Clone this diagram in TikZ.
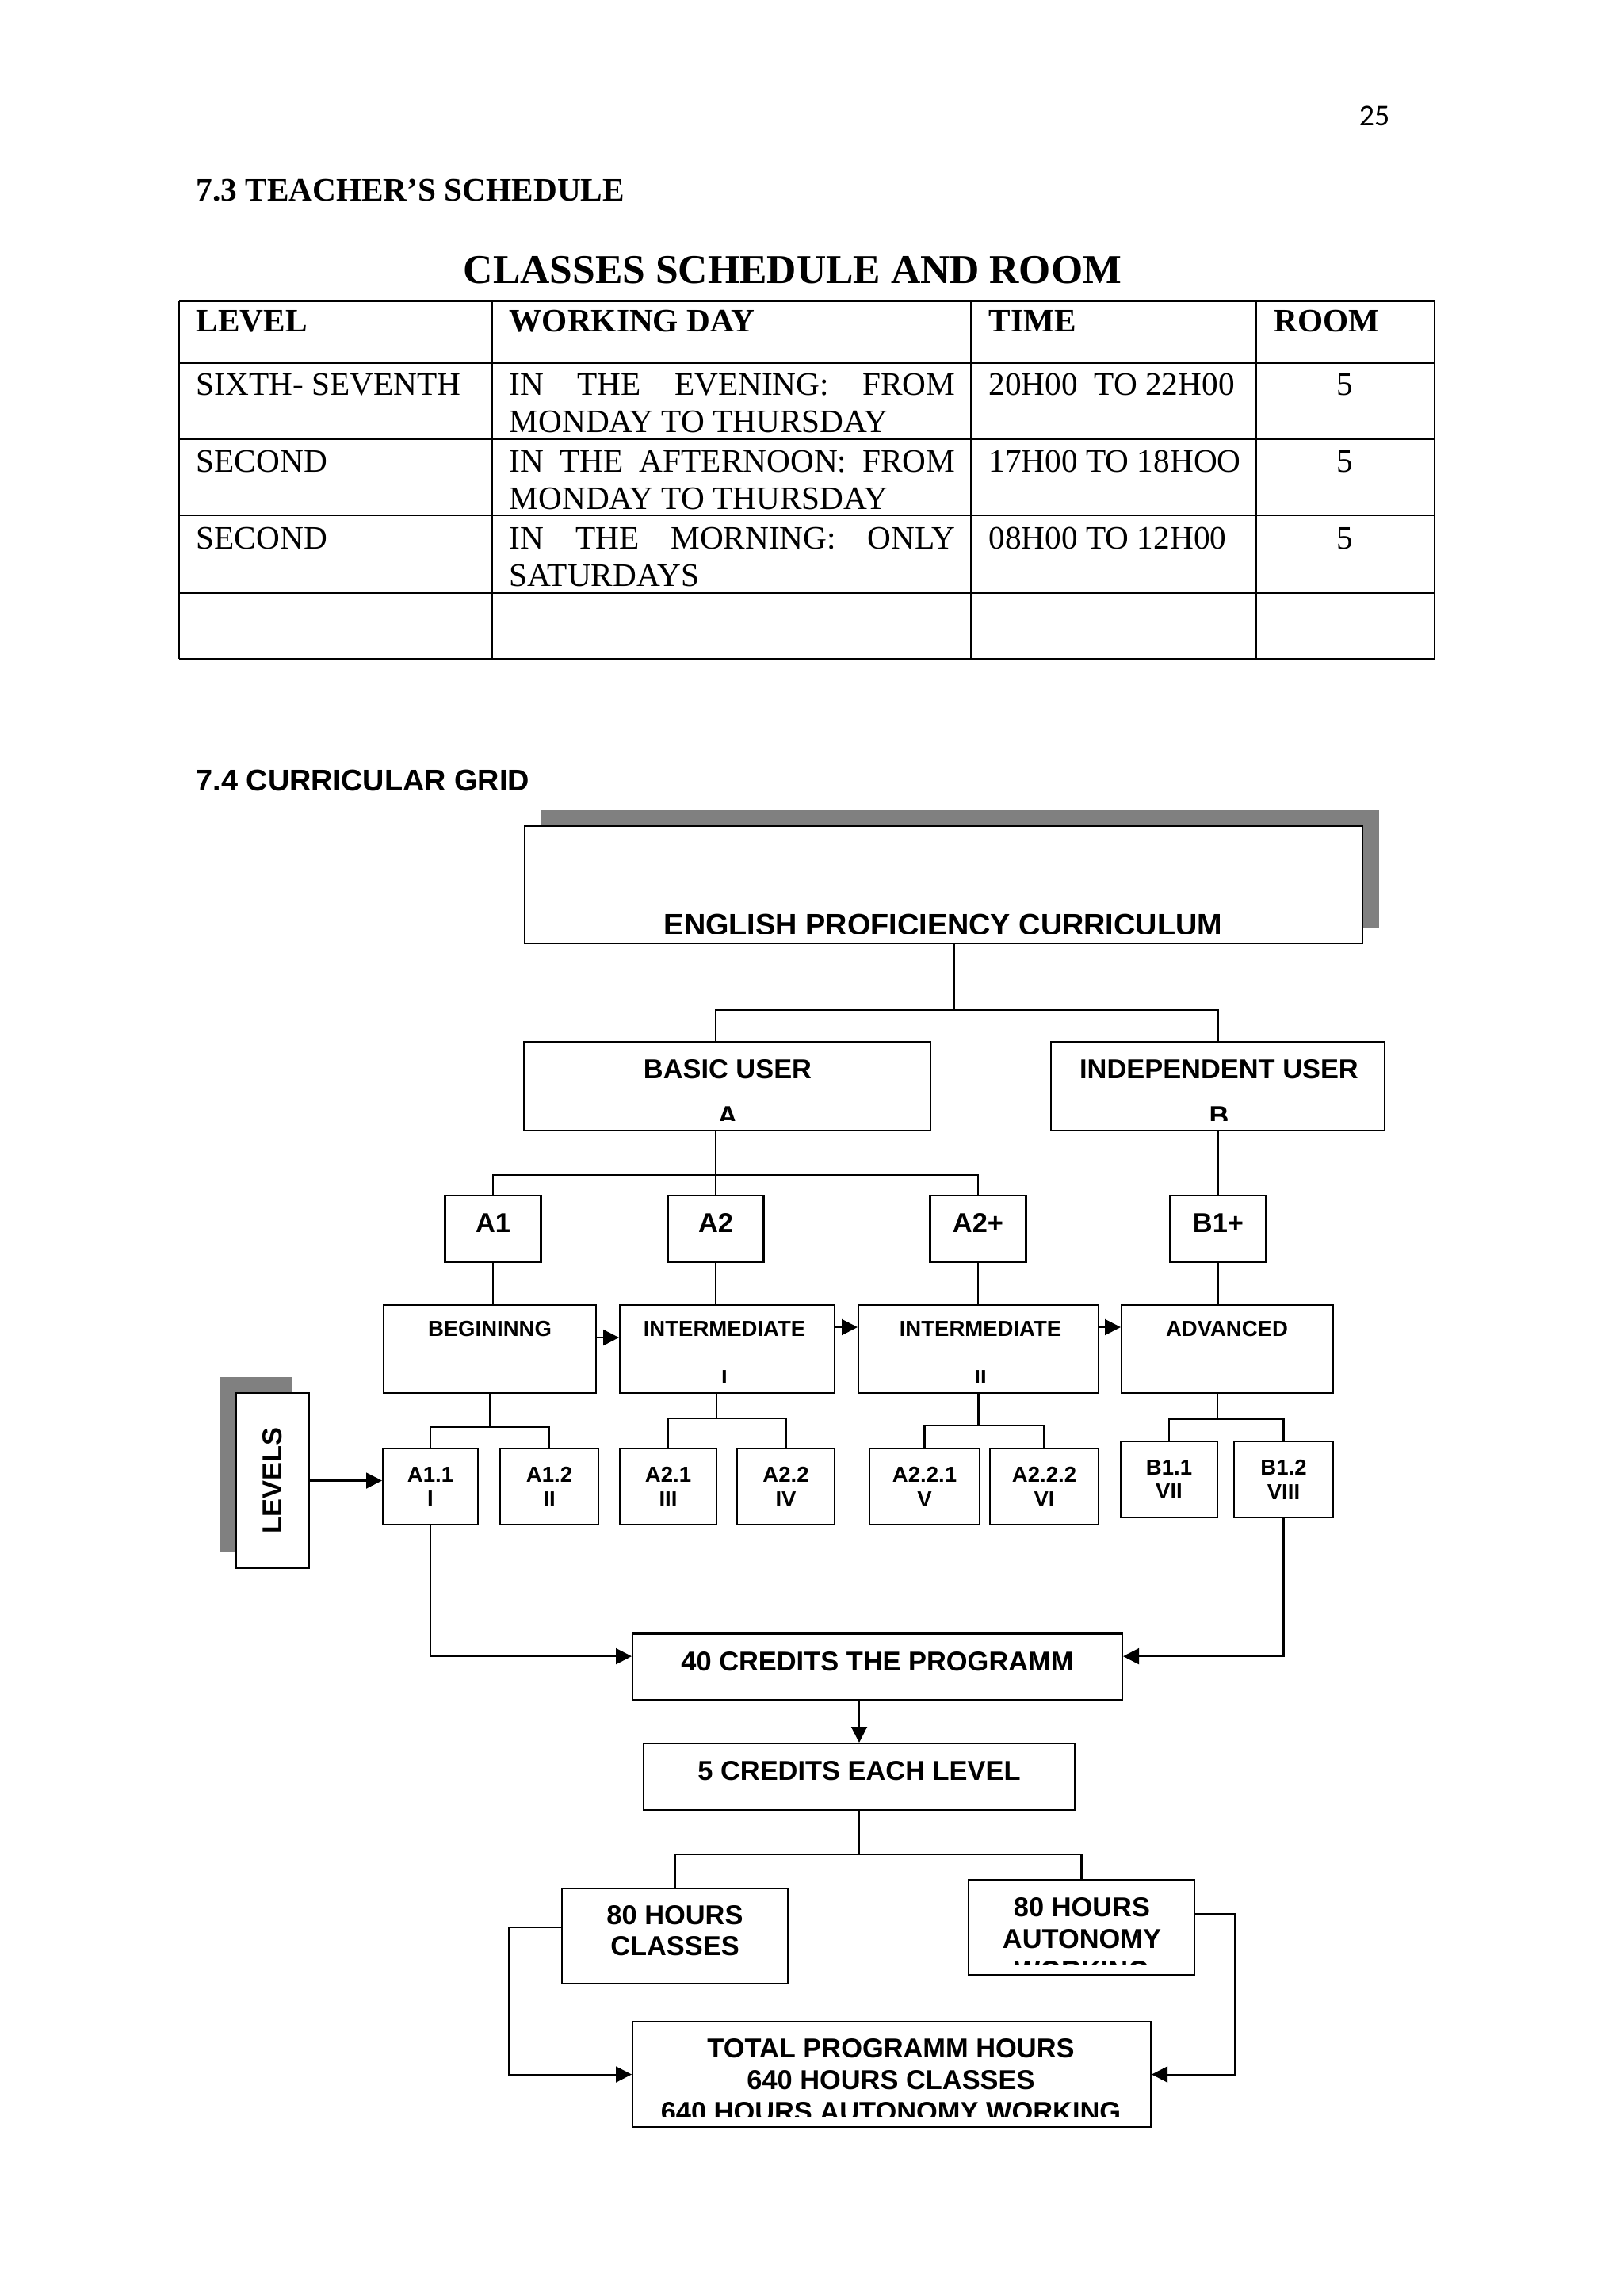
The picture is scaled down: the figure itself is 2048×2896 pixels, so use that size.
\documentclass[tikz,border=0pt]{standalone}
\usepackage{fontspec}
\setmainfont{Liberation Serif}
\newfontfamily\arialf{Liberation Sans}
\newfontfamily\calibrif{Carlito}
\usepackage{graphicx}
\usetikzlibrary{arrows.meta,shadows}
\definecolor{shadowgray}{RGB}{128,128,128}
\newcommand{\px}{0.29066pt}
\tikzset{
  box/.style={rectangle, draw=black, line width=0.6pt, fill=white, inner sep=0pt,
              align=center, font=\arialf\bfseries\fontsize{10}{11.5}\selectfont},
  boxup/.style={box, text depth=4.4pt},
  lvl/.style={box, font=\arialf\bfseries\fontsize{8}{9}\selectfont},
  shadowed/.style={drop shadow={shadow xshift=#1, shadow yshift=5.8pt, fill=shadowgray, opacity=1}},
  txt/.style={inner sep=0pt, anchor=north, align=center, font=\arialf\bfseries\fontsize{10}{17.1}\selectfont},
  txtm/.style={txt, font=\arialf\bfseries\fontsize{10}{11.6}\selectfont},
  txts/.style={txt, font=\arialf\bfseries\fontsize{8}{18}\selectfont},
  ln/.style={line width=0.6pt},
  ar/.style={-{Triangle[length=5.8pt,width=5.8pt]}, line width=0.6pt},
  cell/.style={inner sep=0pt, anchor=base west, font=\fontsize{12}{14}\selectfont},
  tline/.style={line width=0.6pt},
}
\begin{document}
\begin{tikzpicture}[x=\px, y=-\px]
\path[use as bounding box, fill=white] (0,0) rectangle (2048,2896);

% page header
\node[cell, anchor=base east, font=\calibrif\fontsize{11}{13}\selectfont] (pagenum) at (1754,158) {25};
\node[cell, font=\bfseries\fontsize{12}{14}\selectfont] (sec73) at (247,253) {7.3 TEACHER’S SCHEDULE};
\node[cell, anchor=base, font=\bfseries\fontsize{15}{18}\selectfont] (tabtitle) at (1000,357) {CLASSES SCHEDULE AND ROOM};

% schedule table
\foreach \x in {226,621,1225,1585,1810} \draw[tline] (\x,380) -- (\x,831);
\foreach \y in {380,458,554,650,748,831} \draw[tline] (226,\y) -- (1810,\y);
\node[cell, font=\bfseries\fontsize{12}{14}\selectfont] (hlevel) at (247,418) {LEVEL};
\node[cell, font=\bfseries\fontsize{12}{14}\selectfont] (hday) at (642,418) {WORKING DAY};
\node[cell, font=\bfseries\fontsize{12}{14}\selectfont] (htime) at (1247,418) {TIME};
\node[cell, font=\bfseries\fontsize{12}{14}\selectfont] (hroom) at (1607,418) {ROOM};
\foreach \r/\yy/\lv/\wa/\wb/\tm in {
  1/498/SIXTH- SEVENTH/IN THE EVENING: FROM/MONDAY TO THURSDAY/20H00\ \ TO 22H00,
  2/595/SECOND/IN THE AFTERNOON: FROM/MONDAY TO THURSDAY/17H00 TO 18HOO,
  3/692/SECOND/IN THE MORNING: ONLY/SATURDAYS/08H00 TO 12H00}{
  \node[cell] (lv\r) at (247,\yy) {\lv};
  \node[cell] (wa\r) at (642,\yy) {\makebox[163.6pt][s]{\wa}};
  \node[cell] (wb\r) at (642,\yy+47) {\wb};
  \node[cell] (tm\r) at (1247,\yy) {\tm};
  \node[cell, anchor=base] (rm\r) at (1697,\yy) {5};
}

% curricular grid
\node[cell, font=\arialf\bfseries\fontsize{11}{13}\selectfont] (sec74) at (247,997) {7.4 CURRICULAR GRID};

\node[box, shadowed=6.1pt, minimum width=1057*\px, minimum height=148*\px] (title) at (1190.5,1116) {};
\begin{scope}
  \clip ([yshift=3.8pt]title.south west) rectangle (title.north east);
  \node[txt, font=\arialf\bfseries\fontsize{11}{13}\selectfont] (titlet) at (1190,1152) {ENGLISH PROFICIENCY CURRICULUM};
\end{scope}

\node[box, minimum width=513*\px, minimum height=112*\px] (basic) at (917.5,1370) {};
\node[box, minimum width=421*\px, minimum height=112*\px] (indep) at (1536.5,1370) {};
\begin{scope}
  \clip ([yshift=3.8pt]basic.south west) rectangle (indep.north east);
  \node[txt] (basict) at (918,1336) {BASIC USER\\A};
  \node[txt] (indept) at (1538,1336) {INDEPENDENT USER\\B};
\end{scope}

\foreach \n/\x/\t in {a1/622/A1, a2/903/A2, a2p/1234/A2+, b1p/1537/B1+}
  \node[boxup, minimum width=121*\px, minimum height=84*\px] (\n) at (\x,1550) {\t};

\foreach \n/\xa/\xb in {beg/484/752, int1/782/1053, int2/1083/1386, adv/1415/1682}
  \node[box, minimum width={(\xb-\xa)*\px}, minimum height=111*\px] (\n) at ({(\xa+\xb)/2},1701.5) {};
\node[txts] (begt) at (618,1666) {BEGININNG};
\node[txts] (advt) at (1548,1666) {ADVANCED};
\begin{scope}
  \clip ([yshift=3.8pt]int1.south west) rectangle (int2.north east);
  \node[txts] (int1t) at (914,1666) {INTERMEDIATE\\I};
  \node[txts] (int2t) at (1237,1666) {INTERMEDIATE\\II};
\end{scope}

\node[box, shadowed=-6.1pt, minimum width=92*\px, minimum height=221*\px] (levels) at (344,1867.5) {\rotatebox{90}{LEVELS}};

\foreach \n/\xa/\xb/\ya/\yb/\t in {
  a11/483/603/1827/1923/A1.1\\I,
  a12/631/755/1827/1923/A1.2\\II,
  a21/782/904/1827/1923/A2.1\\III,
  a22/930/1053/1827/1923/A2.2\\IV,
  a221/1097/1236/1827/1923/A2.2.1\\V,
  a222/1249/1386/1827/1923/A2.2.2\\VI,
  b11/1414/1536/1818/1914/B1.1\\VII,
  b12/1557/1682/1818/1914/B1.2\\VIII}
  \node[lvl, minimum width={(\xb-\xa)*\px}, minimum height={(\yb-\ya)*\px}] (\n) at ({(\xa+\xb)/2},{(\ya+\yb)/2}) {\t};

\node[boxup, text depth=4pt, minimum width=618*\px, minimum height=84*\px] (credits) at (1107,2102.5) {40 CREDITS THE PROGRAMM};
\node[boxup, minimum width=544*\px, minimum height=84*\px] (five) at (1084,2241) {5 CREDITS EACH LEVEL};
\node[boxup, text depth=4pt, minimum width=285*\px, minimum height=120*\px, font=\arialf\bfseries\fontsize{10}{11.4}\selectfont] (classes) at (851.5,2442) {80 HOURS\\CLASSES};
\node[box, minimum width=285*\px, minimum height=120*\px] (autonomy) at (1364.5,2431) {};
\node[box, minimum width=654*\px, minimum height=133*\px] (total) at (1125,2616.5) {};
\begin{scope}
  \clip ([yshift=3.8pt]autonomy.south west) rectangle (autonomy.north east);
  \node[txtm] (autonomyt) at (1365,2393) {80 HOURS\\AUTONOMY\\WORKING};
\end{scope}
\begin{scope}
  \clip ([yshift=4.2pt]total.south west) rectangle (total.north east);
  \node[txtm] (totalt) at (1124,2571) {TOTAL PROGRAMM HOURS\\640 HOURS CLASSES\\640 HOURS AUTONOMY WORKING};
\end{scope}

% tree connectors
\draw[ln] ([xshift=4pt]title.south) -- ++(0,83) coordinate (jt);
\draw[ln] ([xshift=-4.2pt]basic.north) |- (jt) -| (indep.north);
\draw[ln] ([xshift=-4.2pt]basic.south) -- ++(0,55) coordinate (jb);
\draw[ln] (a1.north) |- (jb) -| (a2p.north);
\draw[ln] (jb) -- (jb |- a2.north);
\draw[ln] (b1p.north |- indep.south) -- (b1p.north);
\foreach \u/\v in {a1/beg, a2/int1, a2p/int2, b1p/adv}
  \draw[ln] (\u.south) -- (\u.south |- \v.north);
\draw[ln] (beg.south) -- ++(0,41.5) coordinate (jbeg);
\draw[ln] (a11.north) |- (jbeg) -| (a12.north);
\draw[ln] ([xshift=-3.8pt]int1.south) -- ++(0,31) coordinate (ji1);
\draw[ln] (a21.north) |- (ji1) -| (a22.north);
\draw[ln] (int2.south) -- ++(0,40) coordinate (ji2);
\draw[ln] (a221.north) |- (ji2) -| (a222.north);
\draw[ln] ([xshift=-3.6pt]adv.south) -- ++(0,32) coordinate (ja);
\draw[ln] (b11.north) |- (ja) -| (b12.north);

% arrows
\draw[ar] (levels.east) -- (levels.east -| a11.west);
\draw[ar] ([yshift=4.2pt]beg.east) -- ([yshift=4.2pt]int1.west);
\draw[ar] ([yshift=8pt]int1.east) -- ([yshift=8pt]int2.west);
\draw[ar] ([yshift=8pt]int2.east) -- ([yshift=8pt]adv.west);
\draw[ar] (a11.south) |- ([yshift=3.9pt]credits.west);
\draw[ar] (b12.south) |- ([yshift=3.9pt]credits.east);
\draw[ar] (five.north |- credits.south) -- (five.north);
\draw[ln] (five.south) -- ++(0,55) coordinate (jf);
\draw[ln] (classes.north) |- (jf) -| (autonomy.north);
\draw[ar] ([yshift=3.2pt]classes.west) -- ++(-66,0) |- (total.west);
\draw[ar] ([yshift=4.9pt]autonomy.east) -- ++(50,0) |- (total.east);
\end{tikzpicture}
\end{document}
